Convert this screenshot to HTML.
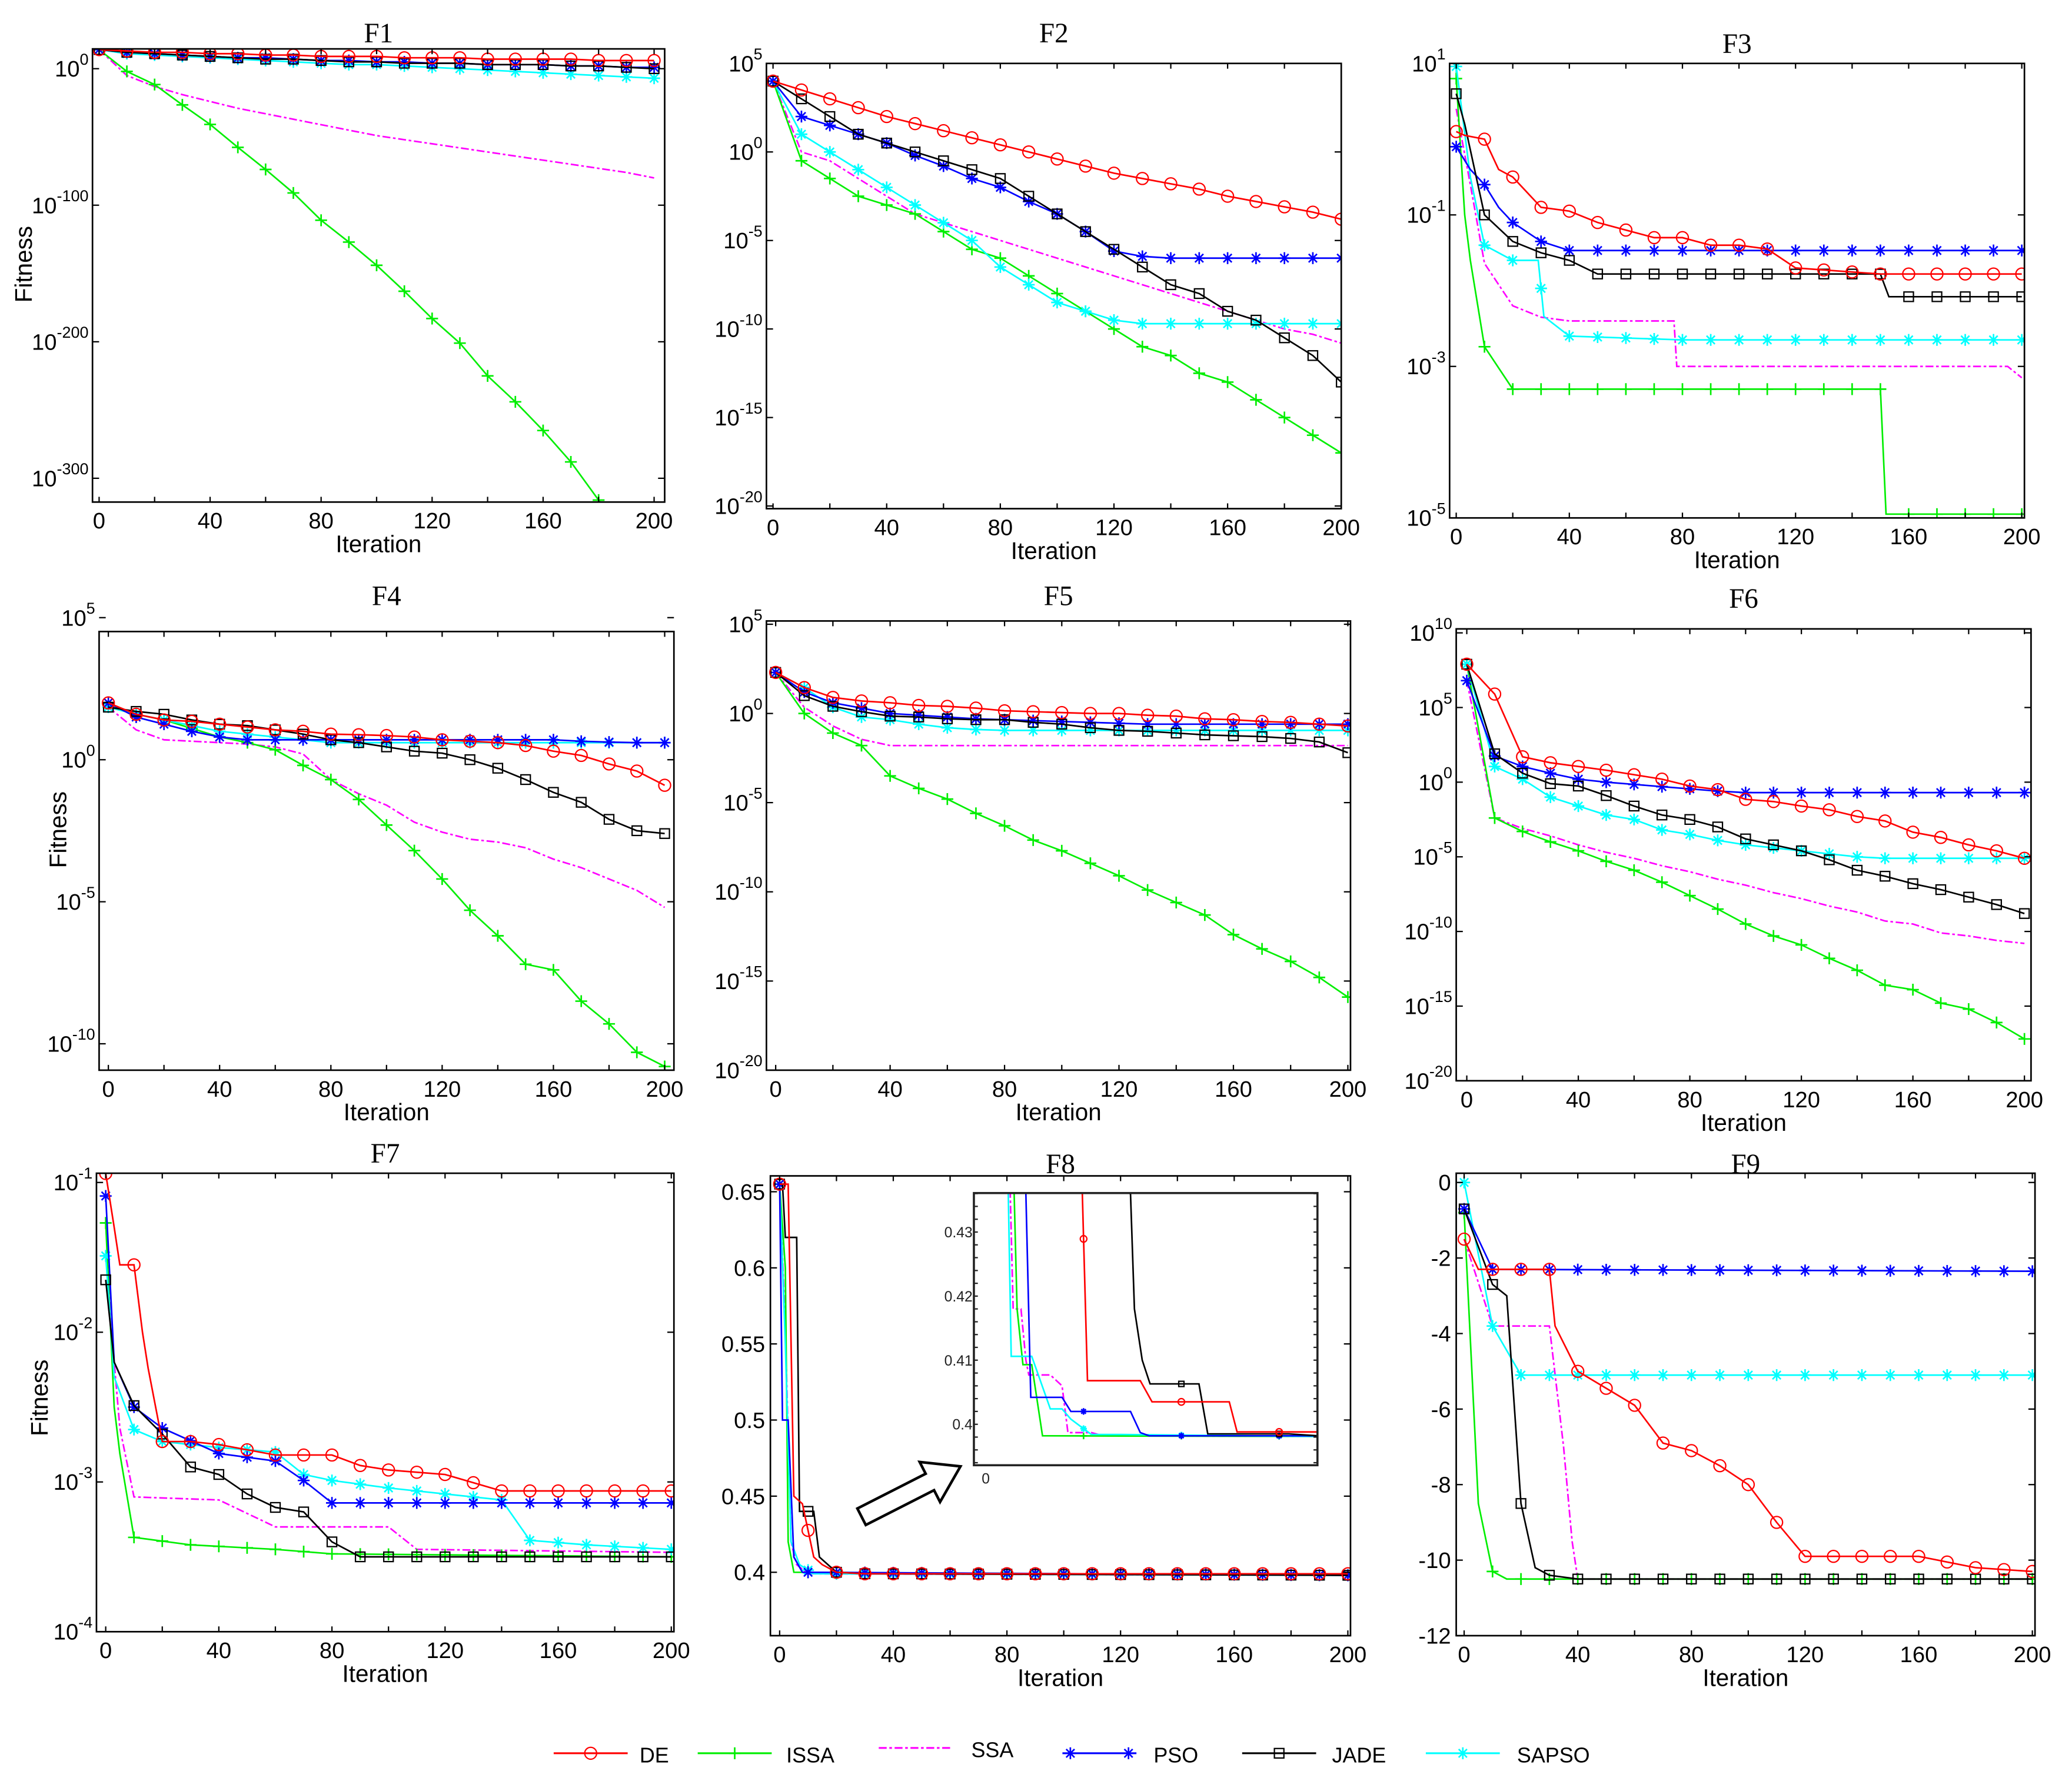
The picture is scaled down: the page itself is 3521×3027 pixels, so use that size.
<!DOCTYPE html>
<html><head><meta charset="utf-8"><style>
html,body{margin:0;padding:0;background:#fff;}
svg{display:block;}
text{font-family:"Liberation Sans",sans-serif;}
.ttl{font-family:"Liberation Serif",serif;font-size:21px;}
</style></head><body>
<svg id="fig" width="3521" height="3027" viewBox="0 0 1568 1348" preserveAspectRatio="none" xmlns="http://www.w3.org/2000/svg">
<rect x="0" y="0" width="1568" height="1348" fill="#fff"/>
</svg>
<script>
// ---- data (log panels store log10 of fitness) ----
const iters = [0,10,20,30,40,50,60,70,80,90,100,110,120,130,140,150,160,170,180,190,200];
// F1
const f1_DE   = [14,13,12,12,11,11,10,10,9,9,9,8,8,8,7,7,7,7,6,6,6];
const f1_ISSA = [14,-2,-11.6,-26.5,-40.8,-57.6,-73.8,-91,-111,-127,-144,-163,-183,-201,-225,-244,-265,-288,-316,-345,-370];
const f1_SSA  = [14,-5,-13,-19,-24,-29,-33,-37,-41,-45,-49,-52,-55,-58,-61,-64,-67,-70,-73,-76,-80];
const f1_PSO  = [14,12,11,10,9,8,8,7,6,6,5,5,4,4,3,3,3,2,2,1,1];
const f1_JADE = [14,12,11,10,9,8,7,7,6,5,5,4,4,4,3,3,3,2,2,1,0];
const f1_SAPSO= [14,11,10,9,8,7,6,5,4,3,3,2,1,0,-1,-2,-3,-4,-5,-6,-7];
// F2
const f2_DE   = [4,3.5,3,2.5,2,1.6,1.2,0.8,0.4,0,-0.4,-0.8,-1.2,-1.5,-1.8,-2.1,-2.5,-2.8,-3.1,-3.4,-3.8];
const f2_ISSA = [4,-0.5,-1.5,-2.5,-3,-3.5,-4.5,-5.5,-6,-7,-8,-9,-10,-11,-11.5,-12.5,-13,-14,-15,-16,-17];
const f2_SSA  = [4,0,-0.5,-1.5,-2.5,-3.5,-4,-4.5,-5,-5.5,-6,-6.5,-7,-7.5,-8,-8.5,-9,-9.5,-10,-10.3,-10.8];
const f2_PSO  = [4,2,1.5,1,0.5,-0.2,-0.8,-1.5,-2,-2.8,-3.5,-4.5,-5.6,-5.9,-6,-6,-6,-6,-6,-6,-6];
const f2_JADE = [4,3,2,1,0.5,0,-0.5,-1,-1.5,-2.5,-3.5,-4.5,-5.5,-6.5,-7.5,-8,-9,-9.5,-10.5,-11.5,-13];
const f2_SAPSO= [4,1,0,-1,-2,-3,-4,-5,-6.5,-7.5,-8.5,-9,-9.5,-9.7,-9.7,-9.7,-9.7,-9.7,-9.7,-9.7,-9.7];
// F3 (irregular)
const f3_DE_x=[0,3,10,15,20,25,30,40,50,60,70,80,90,100,110,120,150,200];
const f3_DE  =[0.1,0.05,0,-0.4,-0.5,-0.7,-0.9,-0.95,-1.1,-1.2,-1.3,-1.3,-1.4,-1.4,-1.45,-1.7,-1.78,-1.78];
const f3_ISSA_x=[0,3,5,10,20,150,152,200];
const f3_ISSA  =[0.8,-1,-1.6,-2.74,-3.3,-3.3,-4.95,-4.95];
const f3_SSA_x=[0,5,10,20,30,40,77,78,195,200];
const f3_SSA  =[0.4,-0.6,-1.64,-2.2,-2.35,-2.4,-2.4,-3,-3,-3.15];
const f3_PSO_x=[0,5,10,15,20,30,40,200];
const f3_PSO  =[-0.1,-0.4,-0.6,-0.9,-1.1,-1.35,-1.47,-1.47];
const f3_JADE_x=[0,3,10,20,30,40,50,150,153,200];
const f3_JADE  =[0.6,0.2,-1,-1.35,-1.5,-1.6,-1.78,-1.78,-2.08,-2.08];
const f3_SAPSO_x=[0,5,10,20,29,31,40,80,200];
const f3_SAPSO  =[0.96,-0.5,-1.4,-1.6,-1.6,-2.34,-2.6,-2.65,-2.65];
// F4
const f4_DE   = [2,1.6,1.4,1.35,1.25,1.15,1.05,1,0.9,0.88,0.85,0.8,0.7,0.65,0.6,0.5,0.3,0.15,-0.15,-0.4,-0.9];
const f4_ISSA = [1.85,1.6,1.4,1.1,0.8,0.6,0.35,-0.2,-0.7,-1.4,-2.3,-3.2,-4.2,-5.3,-6.2,-7.2,-7.4,-8.5,-9.3,-10.3,-10.8];
const f4_SSA  = [1.85,1.05,0.7,0.65,0.6,0.55,0.45,0.2,-0.7,-1.2,-1.6,-2.2,-2.55,-2.8,-2.9,-3.1,-3.5,-3.8,-4.2,-4.6,-5.2];
const f4_PSO  = [2,1.5,1.25,1.0,0.8,0.7,0.7,0.7,0.7,0.7,0.7,0.7,0.7,0.7,0.7,0.7,0.7,0.65,0.62,0.6,0.6];
const f4_JADE = [1.85,1.7,1.6,1.4,1.25,1.2,1.05,0.9,0.7,0.6,0.45,0.3,0.23,0,-0.3,-0.7,-1.15,-1.5,-2.1,-2.5,-2.6];
const f4_SAPSO= [1.85,1.6,1.4,1.2,1.0,0.9,0.8,0.7,0.6,0.6,0.6,0.6,0.6,0.6,0.6,0.6,0.6,0.6,0.6,0.6,0.6];
// F5
const f5_DE   = [2.3,1.45,0.9,0.7,0.6,0.45,0.4,0.3,0.15,0.1,0.05,0,0,-0.1,-0.15,-0.3,-0.35,-0.45,-0.5,-0.6,-0.7];
const f5_ISSA = [2.3,0,-1.1,-1.8,-3.5,-4.2,-4.8,-5.6,-6.3,-7.1,-7.7,-8.4,-9.1,-9.9,-10.6,-11.3,-12.4,-13.2,-13.9,-14.8,-15.9];
const f5_SSA  = [2.3,0.35,-0.7,-1.45,-1.8,-1.8,-1.8,-1.8,-1.8,-1.8,-1.8,-1.8,-1.8,-1.8,-1.8,-1.8,-1.8,-1.8,-1.8,-1.8,-1.8];
const f5_PSO  = [2.3,1.2,0.6,0.3,0,-0.1,-0.2,-0.3,-0.35,-0.4,-0.45,-0.5,-0.55,-0.6,-0.6,-0.6,-0.6,-0.6,-0.6,-0.6,-0.6];
const f5_JADE = [2.3,1.0,0.4,0.1,-0.15,-0.2,-0.3,-0.35,-0.35,-0.5,-0.6,-0.8,-0.95,-1,-1.1,-1.2,-1.25,-1.3,-1.4,-1.6,-2.2];
const f5_SAPSO= [2.3,1.45,0.35,-0.2,-0.35,-0.6,-0.8,-0.9,-0.95,-0.95,-0.95,-0.95,-0.95,-0.95,-0.95,-0.95,-0.95,-0.95,-0.95,-0.95,-0.95];
// F6
const f6_DE   = [7.9,5.9,1.7,1.3,1.05,0.8,0.5,0.2,-0.26,-0.5,-1.15,-1.3,-1.6,-1.85,-2.3,-2.6,-3.35,-3.7,-4.2,-4.6,-5.1];
const f6_ISSA = [7.9,-2.4,-3.3,-4.0,-4.6,-5.3,-5.9,-6.7,-7.6,-8.5,-9.5,-10.3,-10.9,-11.8,-12.6,-13.6,-13.9,-14.8,-15.2,-16.1,-17.2];
const f6_SSA  = [6.8,-2.4,-3.1,-3.6,-4.2,-4.7,-5.1,-5.6,-6,-6.5,-6.9,-7.4,-7.8,-8.3,-8.7,-9.3,-9.5,-10.1,-10.3,-10.6,-10.8];
const f6_PSO  = [6.8,1.75,1.05,0.6,0.2,0,-0.15,-0.3,-0.45,-0.6,-0.7,-0.7,-0.7,-0.7,-0.7,-0.7,-0.7,-0.7,-0.7,-0.7,-0.7];
const f6_JADE = [7.9,1.9,0.6,-0.1,-0.26,-0.9,-1.6,-2.2,-2.5,-3,-3.8,-4.2,-4.6,-5.2,-5.9,-6.3,-6.8,-7.2,-7.7,-8.2,-8.8];
const f6_SAPSO= [7.9,1.05,0.2,-1,-1.6,-2.2,-2.5,-3.2,-3.5,-3.9,-4.2,-4.4,-4.6,-4.8,-5.0,-5.1,-5.1,-5.1,-5.1,-5.1,-5.1];
// F7
const f7_DE_x=[0,3,5,10,13,15,20,30,40,60,80,90,100,120,140,200];
const f7_DE  =[-0.94,-1.3,-1.55,-1.55,-2.0,-2.24,-2.73,-2.73,-2.75,-2.82,-2.82,-2.89,-2.92,-2.95,-3.06,-3.06];
const f7_ISSA_x=[0,3,5,10,30,60,80,200];
const f7_ISSA  =[-1.27,-2.5,-2.81,-3.37,-3.42,-3.45,-3.48,-3.5];
const f7_SSA_x=[0,3,5,10,40,60,100,110,200];
const f7_SSA  =[-1.27,-2.2,-2.64,-3.1,-3.12,-3.3,-3.3,-3.45,-3.47];
const f7_PSO_x=[0,3,10,20,40,60,70,80,200];
const f7_PSO  =[-1.09,-2.2,-2.5,-2.64,-2.81,-2.86,-2.99,-3.14,-3.14];
const f7_JADE_x=[0,3,10,20,30,40,50,60,70,80,90,200];
const f7_JADE  =[-1.65,-2.2,-2.49,-2.68,-2.9,-2.95,-3.08,-3.17,-3.2,-3.4,-3.5,-3.5];
const f7_SAPSO_x=[0,3,10,20,40,60,70,80,100,140,150,170,200];
const f7_SAPSO  =[-1.49,-2.3,-2.65,-2.73,-2.77,-2.8,-2.95,-2.99,-3.04,-3.12,-3.39,-3.42,-3.45];
// F8 (linear)
const f8_DE_x=[0,3,5,8,12,15,20,30,200];
const f8_DE  =[0.655,0.655,0.45,0.445,0.41,0.405,0.40,0.399,0.399];
const f8_ISSA_x=[0,2,3,5,200];
const f8_ISSA  =[0.655,0.6,0.42,0.4,0.398];
const f8_SSA_x=[0,2,4,6,10,200];
const f8_SSA  =[0.655,0.56,0.42,0.405,0.399,0.398];
const f8_PSO_x=[0,1,3,5,8,200];
const f8_PSO  =[0.655,0.5,0.5,0.41,0.40,0.398];
const f8_JADE_x=[0,1,2,6,7,12,14,20,30,200];
const f8_JADE  =[0.655,0.655,0.62,0.62,0.44,0.44,0.41,0.40,0.399,0.398];
const f8_SAPSO_x=[0,2,4,7,12,200];
const f8_SAPSO  =[0.655,0.55,0.42,0.405,0.399,0.398];
// F8 inset (zoomed)
const in_DE_x=[0,9.8,10.4,15.8,17,24.9,25.7,34];
const in_DE  =[0.44,0.44,0.4068,0.4068,0.4035,0.4035,0.3988,0.3988];
const in_ISSA_x=[0,2.9,3.2,3.8,4.7,5.8,34];
const in_ISSA  =[0.44,0.436,0.418,0.4093,0.4093,0.3982,0.3981];
const in_SSA_x=[0,2.5,2.8,3.6,4.1,4.4,6.6,7.8,8.4,10.8,12,34];
const in_SSA  =[0.44,0.436,0.418,0.418,0.41,0.4077,0.4077,0.406,0.3987,0.3987,0.3982,0.3981];
const in_PSO_x=[0,4.1,4.6,7.8,8.7,14.8,15.8,16.7,34];
const in_PSO  =[0.44,0.436,0.4042,0.4042,0.402,0.402,0.3987,0.3982,0.3982];
const in_JADE_x=[0,14.8,15.2,16,16.8,21.8,22.7,31,34];
const in_JADE  =[0.44,0.436,0.418,0.41,0.4063,0.4063,0.3985,0.3985,0.3982];
const in_SAPSO_x=[0,2.3,2.6,4.7,6.6,7.8,8.7,10.8,13.8,34];
const in_SAPSO  =[0.44,0.436,0.4106,0.4106,0.4024,0.4024,0.4008,0.3984,0.3984,0.3981];
// F9 (linear)
const f9_DE_x=[0,5,30,32,40,60,70,80,90,100,110,120,160,180,200];
const f9_DE  =[-1.5,-2.3,-2.3,-3.8,-5,-5.9,-6.9,-7.1,-7.5,-8,-9,-9.9,-9.9,-10.2,-10.3];
const f9_ISSA_x=[0,5,10,15,200];
const f9_ISSA  =[-0.8,-8.5,-10.3,-10.5,-10.5];
const f9_SSA_x=[0,10,30,35,38,40,200];
const f9_SSA  =[-1.5,-3.8,-3.8,-7,-9.5,-10.5,-10.5];
const f9_PSO_x=[0,10,200];
const f9_PSO  =[-0.7,-2.3,-2.35];
const f9_JADE_x=[0,10,15,20,25,30,40,200];
const f9_JADE  =[-0.7,-2.7,-3,-8.5,-10.2,-10.4,-10.5,-10.5];
const f9_SAPSO_x=[0,10,20,200];
const f9_SAPSO  =[0,-3.8,-5.1,-5.1];

const seriesNames=["DE","ISSA","SSA","PSO","JADE","SAPSO"];
const STY={DE:{c:"#ff0000",m:"o"},ISSA:{c:"#00ee00",m:"+"},SSA:{c:"#ff00ff",m:"",d:"6 2 2 2"},PSO:{c:"#0000ff",m:"*"},JADE:{c:"#000000",m:"s"},SAPSO:{c:"#00ffff",m:"*"}};
const NS="http://www.w3.org/2000/svg";
const svg=document.getElementById("fig");
function mk(tag,attrs,parent){const e=document.createElementNS(NS,tag);for(const k in attrs)e.setAttribute(k,attrs[k]);(parent||svg).appendChild(e);return e;}
function interp(xs,ys,t){for(let i=0;i<xs.length-1;i++){if(t>=xs[i]&&t<=xs[i+1]){const f=xs[i+1]===xs[i]?0:(t-xs[i])/(xs[i+1]-xs[i]);return ys[i]+f*(ys[i+1]-ys[i]);}}return ys[ys.length-1];}
function marker(g,type,x,y,c,s){s=s||4.5;
  if(type==="o"){mk("circle",{cx:x,cy:y,r:s,fill:"none",stroke:c,"stroke-width":1},g);}
  else if(type==="s"){mk("rect",{x:x-s*0.8,y:y-s*0.8,width:s*1.6,height:s*1.6,fill:"none",stroke:c,"stroke-width":1},g);}
  else if(type==="+"){mk("path",{d:`M${x-s} ${y}H${x+s}M${x} ${y-s}V${y+s}`,stroke:c,"stroke-width":1.2},g);}
  else if(type==="*"){const d=s*0.7;mk("path",{d:`M${x-s} ${y}H${x+s}M${x} ${y-s}V${y+s}M${x-d} ${y-d}L${x+d} ${y+d}M${x-d} ${y+d}L${x+d} ${y-d}`,stroke:c,"stroke-width":1.2},g);}
}
let clipId=0;
function drawSeries(g,P,name,xs,ys,markStep,xmax){
  const st=STY[name];
  const pts=xs.map((x,i)=>P.X(x).toFixed(2)+","+P.Y(ys[i]).toFixed(2)).join(" ");
  const pl=mk("polyline",{points:pts,fill:"none",stroke:st.c,"stroke-width":1.2},g);
  
  
  if(st.d)pl.setAttribute("stroke-dasharray",st.d);
  if(st.m){for(let t=0;t<=xmax;t+=markStep){marker(g,st.m,P.X(t),P.Y(interp(xs,ys,t)),st.c);}}
}
function sup(parent,x,y,base,exp,anchor,fs){
  const t=mk("text",{x:x,y:y,"font-size":fs||17,"text-anchor":anchor||"end"},parent);
  
  
  const a=document.createElementNS(NS,"tspan");a.textContent=base;t.appendChild(a);
  const b=document.createElementNS(NS,"tspan");b.setAttribute("dy","-9");b.setAttribute("font-size","12");b.textContent=exp;t.appendChild(b);
}
function panel(cfg){
  const [x0,y0,x1,y1]=cfg.box;
  const g=mk("g",{});
  
  
  const P={X:v=>cfg.xr[1]+(v-cfg.xr[0])*(cfg.xr[3]-cfg.xr[1])/(cfg.xr[2]-cfg.xr[0]),
           Y:v=>cfg.yr[1]+(v-cfg.yr[0])*(cfg.yr[3]-cfg.yr[1])/(cfg.yr[2]-cfg.yr[0])};
  const id="clp"+(clipId++);
  const cp=mk("clipPath",{id:id},g);mk("rect",{x:x0,y:y0,width:x1-x0,height:y1-y0},cp);
  const dg=mk("g",{"clip-path":`url(#${id})`},g);
  
  
  const order=["SSA","ISSA","SAPSO","PSO","JADE","DE"];
  for(const n of order){const d=cfg.data[n];drawSeries(dg,P,n,d[0],d[1],10,200);}
  const bx=mk("rect",{x:x0,y:y0,width:x1-x0,height:y1-y0,fill:"none",stroke:"#000","stroke-width":1.2},g);
  
  
  for(let v=0;v<=200;v+=20){const x=P.X(v);mk("path",{d:`M${x} ${y1}V${y1-4}M${x} ${y0}V${y0+4}`,stroke:"#000","stroke-width":1},g);}
  for(let v=0;v<=200;v+=40){const t=mk("text",{x:P.X(v),y:y1+20,"font-size":17,"text-anchor":"middle"},g);t.textContent=v;
    
    }
  for(const tk of cfg.yt){const y=P.Y(tk[0]);mk("path",{d:`M${x0} ${y}H${x0+5}M${x1} ${y}H${x1-5}`,stroke:"#000","stroke-width":1},g);
    if(cfg.log)sup(g,x0-3,y+6,"10",tk[1]);else{const t=mk("text",{x:x0-4,y:y+6,"font-size":17,"text-anchor":"end"},g);t.textContent=tk[1];
      
      }}
  const tt=mk("text",{x:(x0+x1)/2,y:cfg.ty,"text-anchor":"middle",class:"ttl"},g);tt.textContent=cfg.title;
  
  
  const xl=mk("text",{x:(x0+x1)/2,y:y1+38,"font-size":18,"text-anchor":"middle"},g);xl.textContent="Iteration";
  
  
  if(cfg.ylab){const yl=mk("text",{x:0,y:0,"font-size":18,"text-anchor":"middle",transform:`translate(${cfg.ylab[0]},${cfg.ylab[1]}) rotate(-90)`},g);yl.textContent="Fitness";
    
    }
  return {g,P};
}
function U(a){return [iters,a];}
panel({title:"F1",box:[70,37,503,380],xr:[0,75,200,495],yr:[0,52,-300,362],log:1,ty:32,ylab:[24,200],
  yt:[[0,"0"],[-100,"-100"],[-200,"-200"],[-300,"-300"]],
  data:{DE:U(f1_DE),ISSA:U(f1_ISSA),SSA:U(f1_SSA),PSO:U(f1_PSO),JADE:U(f1_JADE),SAPSO:U(f1_SAPSO)}});
panel({title:"F2",box:[580,48,1015,385],xr:[0,585,200,1015],yr:[0,115,-20,383],log:1,ty:32,
  yt:[[5,"5"],[0,"0"],[-5,"-5"],[-10,"-10"],[-15,"-15"],[-20,"-20"]],
  data:{DE:U(f2_DE),ISSA:U(f2_ISSA),SSA:U(f2_SSA),PSO:U(f2_PSO),JADE:U(f2_JADE),SAPSO:U(f2_SAPSO)}});
panel({title:"F3",box:[1097,48,1532,392],xr:[0,1102,200,1530],yr:[1,48,-5,392],log:1,ty:40,
  yt:[[1,"1"],[-1,"-1"],[-3,"-3"],[-5,"-5"]],
  data:{DE:[f3_DE_x,f3_DE],ISSA:[f3_ISSA_x,f3_ISSA],SSA:[f3_SSA_x,f3_SSA],PSO:[f3_PSO_x,f3_PSO],JADE:[f3_JADE_x,f3_JADE],SAPSO:[f3_SAPSO_x,f3_SAPSO]}});
panel({title:"F4",box:[75,478,510,810],xr:[0,82,200,503],yr:[0,575,-10,790],log:1,ty:458,ylab:[50,628],
  yt:[[5,"5"],[0,"0"],[-5,"-5"],[-10,"-10"]],
  data:{DE:U(f4_DE),ISSA:U(f4_ISSA),SSA:U(f4_SSA),PSO:U(f4_PSO),JADE:U(f4_JADE),SAPSO:U(f4_SAPSO)}});
panel({title:"F5",box:[580,470,1022,810],xr:[0,587,200,1020],yr:[0,540,-20,810],log:1,ty:458,
  yt:[[5,"5"],[0,"0"],[-5,"-5"],[-10,"-10"],[-15,"-15"],[-20,"-20"]],
  data:{DE:U(f5_DE),ISSA:U(f5_ISSA),SSA:U(f5_SSA),PSO:U(f5_PSO),JADE:U(f5_JADE),SAPSO:U(f5_SAPSO)}});
panel({title:"F6",box:[1102,476,1537,818],xr:[0,1110,200,1532],yr:[0,592,-20,818],log:1,ty:460,
  yt:[[10,"10"],[5,"5"],[0,"0"],[-5,"-5"],[-10,"-10"],[-15,"-15"],[-20,"-20"]],
  data:{DE:U(f6_DE),ISSA:U(f6_ISSA),SSA:U(f6_SSA),PSO:U(f6_PSO),JADE:U(f6_JADE),SAPSO:U(f6_SAPSO)}});
panel({title:"F7",box:[73,888,510,1235],xr:[0,80,200,508],yr:[-1,895,-4,1235],log:1,ty:880,ylab:[36,1058],
  yt:[[-1,"-1"],[-2,"-2"],[-3,"-3"],[-4,"-4"]],
  data:{DE:[f7_DE_x,f7_DE],ISSA:[f7_ISSA_x,f7_ISSA],SSA:[f7_SSA_x,f7_SSA],PSO:[f7_PSO_x,f7_PSO],JADE:[f7_JADE_x,f7_JADE],SAPSO:[f7_SAPSO_x,f7_SAPSO]}});
panel({title:"F8",box:[583,890,1022,1238],xr:[0,590,200,1020],yr:[0.65,902,0.4,1190],log:0,ty:888,
  yt:[[0.65,"0.65"],[0.6,"0.6"],[0.55,"0.55"],[0.5,"0.5"],[0.45,"0.45"],[0.4,"0.4"]],
  data:{DE:[f8_DE_x,f8_DE],ISSA:[f8_ISSA_x,f8_ISSA],SSA:[f8_SSA_x,f8_SSA],PSO:[f8_PSO_x,f8_PSO],JADE:[f8_JADE_x,f8_JADE],SAPSO:[f8_SAPSO_x,f8_SAPSO]}});
panel({title:"F9",box:[1102,888,1540,1238],xr:[0,1108,200,1538],yr:[0,895,-12,1238],log:0,ty:888,
  yt:[[0,"0"],[-2,"-2"],[-4,"-4"],[-6,"-6"],[-8,"-8"],[-10,"-10"],[-12,"-12"]],
  data:{DE:[f9_DE_x,f9_DE],ISSA:[f9_ISSA_x,f9_ISSA],SSA:[f9_SSA_x,f9_SSA],PSO:[f9_PSO_x,f9_PSO],JADE:[f9_JADE_x,f9_JADE],SAPSO:[f9_SAPSO_x,f9_SAPSO]}});

// inset for F8
(function(){
  const x0=737,y0=903,x1=997,y1=1109;
  const g=mk("g",{});
  
  
  mk("rect",{x:x0,y:y0,width:x1-x0,height:y1-y0,fill:"#fff"},g);
  const P={X:v=>746+v*7.4,Y:v=>1078-(v-0.4)*4850};
  const cp=mk("clipPath",{id:"clpin"},g);mk("rect",{x:x0,y:y0,width:x1-x0,height:y1-y0},cp);
  const dg=mk("g",{"clip-path":"url(#clpin)"},g);
  const D={DE:[in_DE_x,in_DE],ISSA:[in_ISSA_x,in_ISSA],SSA:[in_SSA_x,in_SSA],PSO:[in_PSO_x,in_PSO],JADE:[in_JADE_x,in_JADE],SAPSO:[in_SAPSO_x,in_SAPSO]};
  for(const n of ["SSA","ISSA","SAPSO","PSO","JADE","DE"]){const st=STY[n];const d=D[n];
    const pl=mk("polyline",{points:d[0].map((x,i)=>P.X(x)+","+P.Y(d[1][i])).join(" "),fill:"none",stroke:st.c,"stroke-width":1.2},dg);
    
    
    if(st.d)pl.setAttribute("stroke-dasharray",st.d);
    if(st.m){for(let t=10;t<=30;t+=10)marker(dg,st.m,P.X(t),P.Y(interp(d[0],d[1],t)),st.c,2.5);}}
  mk("rect",{x:x0,y:y0,width:x1-x0,height:y1-y0,fill:"none",stroke:"#222","stroke-width":1.6},g);
  for(let v=0.394;v<=0.4361;v+=0.002){const y=P.Y(v);mk("path",{d:`M${x0} ${y}H${x0+3}M${x1} ${y}H${x1-3}`,stroke:"#222","stroke-width":1},g);}
  for(const [v,l] of [[0.43,"0.43"],[0.42,"0.42"],[0.41,"0.41"],[0.4,"0.4"]]){const t=mk("text",{x:x0-1,y:P.Y(v)+4,"font-size":11,"text-anchor":"end",fill:"#222"},g);t.textContent=l;
    
    }
  const t0=mk("text",{x:746,y:1123,"font-size":11,"text-anchor":"middle",fill:"#222"},g);t0.textContent="0";
  
  
  const ar=mk("polygon",{points:"0,-7 58,-7 58,-17 84,0 58,17 58,7 0,7",fill:"#fff",stroke:"#000","stroke-width":2,transform:"translate(652,1148) rotate(-27)"});
  
  
})();

// legend
const legX=[419,528,665,804,940,1079];
const legTX=[484,595,735,873,1008,1148];
const lg=mk("g",{});


seriesNames.forEach((n,i)=>{const st=STY[n];
  const eg=mk("g",{},lg);
  
  
  const len=56; const ly=(n==="SSA")?1323:1327;
  const l=mk("line",{x1:legX[i],y1:ly,x2:legX[i]+len,y2:ly,stroke:st.c,"stroke-width":1.4},eg);
  if(st.d)l.setAttribute("stroke-dasharray",st.d);
  if(n==="PSO"){marker(eg,"*",legX[i]+6,ly,st.c);marker(eg,"*",legX[i]+50,ly,st.c);}
  else if(st.m)marker(eg,st.m,legX[i]+28,ly,st.c);
  const t=mk("text",{x:legTX[i],y:ly+7,"font-size":16},eg);t.textContent=n;
});
</script>
</body></html>
